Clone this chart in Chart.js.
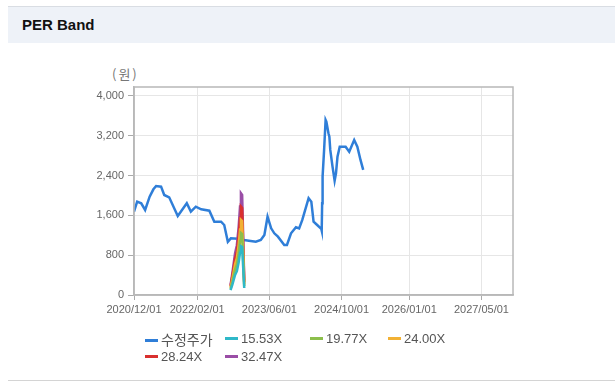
<!DOCTYPE html>
<html>
<head>
<meta charset="utf-8">
<script src="https://cdn.jsdelivr.net/npm/chart.js@4"></script>
<style>
  body { margin: 0; width: 615px; height: 388px; background: #fff; position: relative; overflow: hidden;
         font-family: "Liberation Sans", Arial, "Noto Sans CJK KR", sans-serif; }
  .head { position: absolute; left: 8px; top: 6px; width: 607px; height: 36px; background: #eef2f8; border-top: 1px solid #d9dde3; }
  .head span { position: absolute; left: 14px; top: 9px; font-weight: bold; font-size: 15px; color: #111; }
  .foot { position: absolute; left: 8px; top: 380px; width: 607px; height: 1px; background: #d4d4d4; }
  .unit { position: absolute; left: 112px; top: 64px; font-size: 13px; letter-spacing: 2px; color: #777; font-family: "Noto Sans CJK KR", sans-serif; }
  #wrap { position: absolute; left: 0; top: 0; width: 615px; height: 388px; }
  .lg { position: absolute; font-size: 13px; color: #555; height: 16px; line-height: 16px; white-space: nowrap; }
  .lg i { display: inline-block; width: 13px; height: 3px; vertical-align: middle; margin-right: 3px; position: relative; top: -1px; }
  .lg b { font-weight: normal; font-family: "Noto Sans CJK KR", sans-serif; font-size: 14px; }
</style>
</head>
<body>
<div class="head"><span>PER Band</span></div>
<div class="foot"></div>
<div class="unit">(원)</div>
<div id="wrap"><canvas id="perChart" width="615" height="388"></canvas></div>
<div id="legend"></div>
<script>
const priceDates = [
    '2020/12/01', '2020/12/22', '2021/01/19', '2021/02/15', '2021/03/15', '2021/04/10', '2021/04/28',
    '2021/06/01', '2021/06/22', '2021/07/25', '2021/09/22', '2021/11/22', '2021/12/19', '2022/01/22',
    '2022/02/28', '2022/04/22', '2022/05/25', '2022/07/10', '2022/08/01', '2022/08/25', '2022/09/15',
    '2022/11/01', '2022/12/13', '2023/01/15', '2023/03/01', '2023/04/04', '2023/04/28', '2023/05/19',
    '2023/06/13', '2023/07/04', '2023/07/28', '2023/09/10', '2023/09/28', '2023/10/25', '2023/11/28',
    '2023/12/19', '2024/01/10', '2024/02/22', '2024/03/10', '2024/03/25', '2024/04/19', '2024/05/16',
    '2024/05/19', '2024/05/22', '2024/05/25', '2024/06/05', '2024/06/15', '2024/06/20', '2024/07/04',
    '2024/07/10', '2024/07/16', '2024/08/01', '2024/08/15', '2024/08/24', '2024/09/04', '2024/09/19',
    '2024/10/28', '2024/11/22', '2024/12/25', '2025/01/16', '2025/02/07', '2025/02/25'
];
const priceValues = [
    1675, 1876, 1843, 1709, 1976, 2124, 2191,
    2177, 2010, 1963, 1588, 1843, 1675, 1775,
    1722, 1695, 1473, 1473, 1407, 1071, 1139,
    1130, 1105, 1092, 1072, 1105, 1206, 1574,
    1340, 1240, 1172, 1005, 1005, 1240, 1361,
    1340, 1508, 1944, 1876, 1474, 1407, 1330,
    1292, 1843, 2379, 2915, 3518, 3484, 3250,
    3183, 2915, 2580, 2298, 2446, 2780, 2981,
    2981, 2881, 3116, 2981, 2714, 2513
];

const bandDates = ['2022/09/13', '2022/09/25', '2022/10/13', '2022/10/25', '2022/11/07', '2022/11/16', '2022/11/22', '2022/11/30', '2022/12/14'];
const band1553 = [96, 210, 402, 478, 655, 851, 978, 963, 140];
const band1977 = [123, 267, 512, 609, 834, 1083, 1246, 1226, 178];
const band2400 = [149, 324, 622, 739, 1013, 1315, 1512, 1488, 216];
const band2824 = [175, 381, 731, 870, 1192, 1548, 1779, 1751, 254];
const band3247 = [201, 438, 841, 1000, 1370, 1779, 2046, 2013, 292];

const seriesLabels = ['수정주가', '15.53X', '19.77X', '24.00X', '28.24X', '32.47X'];
const seriesColors = ['#2f7ed8', '#2fb8c8', '#8cbf4c', '#f2b134', '#d9302f', '#9a4ea6'];

const xTickLabels = ['2020/12/01', '2022/02/01', '2023/06/01', '2024/10/01', '2026/01/01', '2027/05/01'];
const yTicks = [0, 800, 1600, 2400, 3200, 4000];

// months since 2020/12/01, so the x axis can be linear
function toMonths(s) {
    const [y, m, d] = s.split('/').map(Number);
    return (y - 2020) * 12 + (m - 12) + (d - 1) / 30;
}
const pts = (dates, vals) => dates.map((d, i) => ({ x: toMonths(d), y: vals[i] }));

const bands = [band1553, band1977, band2400, band2824, band3247];

const datasets = [{
    label: seriesLabels[0],
    data: pts(priceDates, priceValues),
    borderColor: seriesColors[0],
    borderWidth: 2.5,
    pointRadius: 0,
    order: 1
}];
bands.forEach((b, i) => {
    datasets.push({
        label: seriesLabels[i + 1],
        data: pts(bandDates, b),
        borderColor: seriesColors[i + 1],
        borderWidth: 2.5,
        pointRadius: 0,
        order: 0
    });
});

const plotBorder = {
    id: 'plotBorder',
    afterDraw(chart) {
        const { ctx, chartArea: a } = chart;
        ctx.save();
        ctx.strokeStyle = '#b8b8b8';
        ctx.lineWidth = 1.5;
        ctx.strokeRect(a.left, a.top, a.right - a.left, a.bottom - a.top);
        ctx.restore();
    }
};

const tickFont = { family: '"Liberation Sans", Arial, sans-serif', size: 11 };

new Chart(document.getElementById('perChart').getContext('2d'), {
    type: 'line',
    data: { datasets: datasets },
    options: {
        responsive: false,
        animation: false,
        layout: { padding: { left: 94, right: 102, top: 87, bottom: 63 } },
        scales: {
            x: {
                type: 'linear',
                min: 0,
                max: toMonths('2027/12/01'),
                afterBuildTicks: s => { s.ticks = xTickLabels.map(t => ({ value: toMonths(t) })); },
                afterFit: s => { s.height = 30; },
                ticks: {
                    autoSkip: false,
                    maxRotation: 0,
                    padding: 3,
                    color: '#666',
                    font: tickFont,
                    callback: (v, i) => xTickLabels[i]
                },
                grid: { color: '#e6e6e6', tickColor: '#aaa', tickLength: 5 },
                border: { color: '#b8b8b8', width: 1.5 }
            },
            y: {
                min: 0,
                max: 4180,
                afterBuildTicks: s => { s.ticks = yTicks.map(v => ({ value: v })); },
                afterFit: s => { s.width = 40; },
                ticks: {
                    padding: 4,
                    color: '#666',
                    font: tickFont,
                    callback: v => v.toLocaleString('en-US')
                },
                grid: { color: '#e6e6e6', tickColor: '#aaa', tickLength: 6 },
                border: { color: '#b8b8b8', width: 1.5 }
            }
        },
        plugins: {
            legend: { display: false },
            tooltip: { enabled: false }
        }
    },
    plugins: [plotBorder]
});

// html legend in two rows, same columns as the reference
const legendCols = [145, 225, 310, 388];
const legendRows = [331, 349];
const legend = document.getElementById('legend');
seriesLabels.forEach((label, i) => {
    const el = document.createElement('div');
    el.className = 'lg';
    el.style.left = legendCols[i % 4] + 'px';
    el.style.top = legendRows[Math.floor(i / 4)] + 'px';
    const txt = i === 0 ? '<b>' + label + '</b>' : label;
    el.innerHTML = '<i style="background:' + seriesColors[i] + '"></i>' + txt;
    legend.appendChild(el);
});
</script>
</body>
</html>
